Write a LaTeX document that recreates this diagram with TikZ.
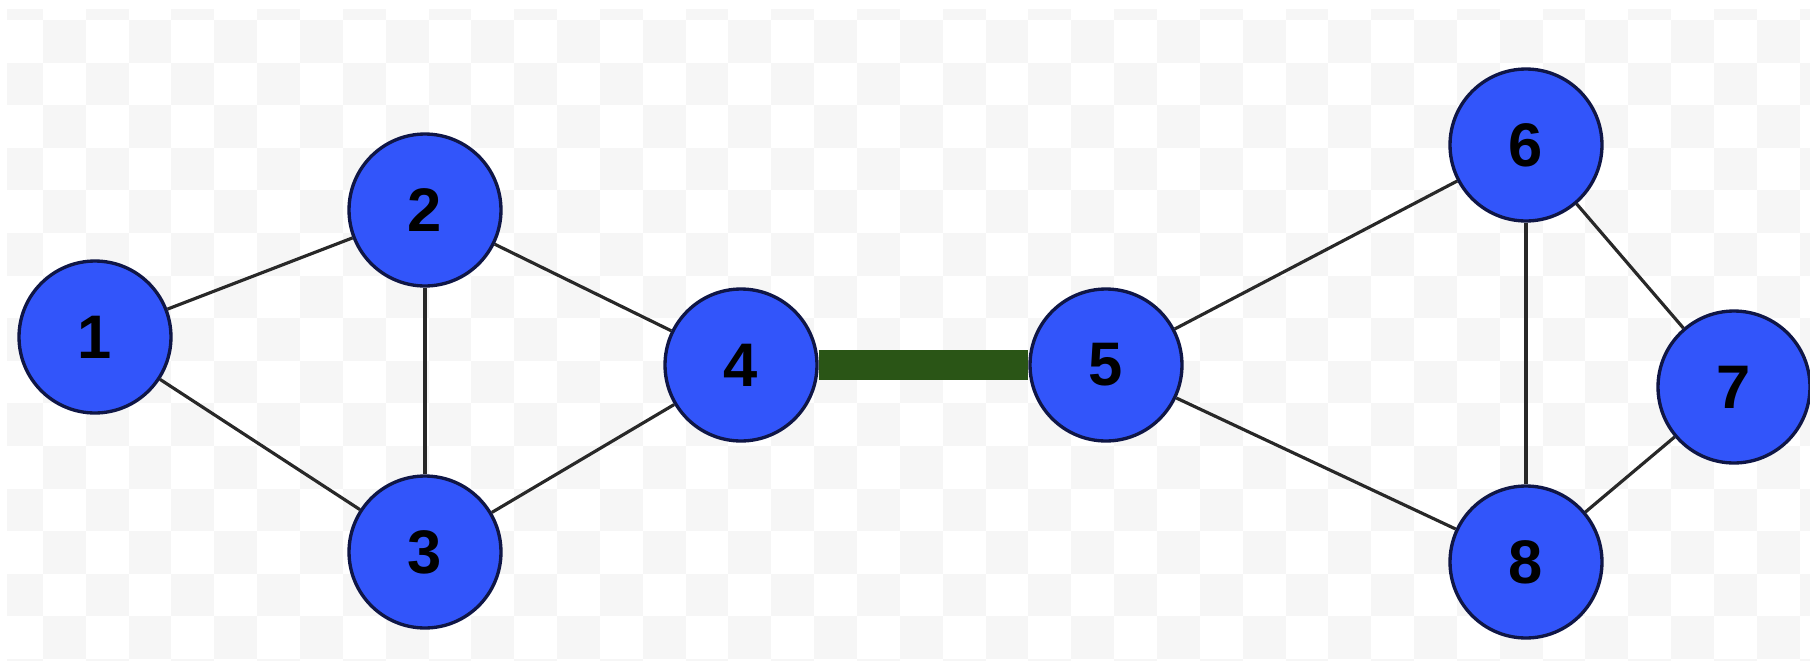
\documentclass[tikz,border=0pt]{standalone}
\usepackage{fontspec}
\setmainfont{Liberation Sans}
\usepackage{tikz}
\usetikzlibrary{shapes}
\definecolor{vblue}{RGB}{50,85,250}
\definecolor{vrim}{RGB}{15,22,70}
\definecolor{bridgegreen}{RGB}{42,85,22}
\definecolor{board}{RGB}{246,246,246}
\tikzstyle{vertex}=[circle, draw=vrim, line width=1.9pt, fill=vblue, inner sep=0pt, minimum size=3.04cm, font=\fontsize{35}{37}\selectfont\bfseries]
\tikzstyle{link}=[draw={rgb,255:red,40;green,40;blue,40}, line width=1.8pt]
\tikzstyle{bridge}=[draw=bridgegreen, line width=17.5pt]

\begin{document}
\begin{tikzpicture}[x=0.02cm, y=-0.02cm]
\useasboundingbox (0,0) rectangle (1810,660);
% checkered backdrop
\begin{scope}
\clip (7,9) rectangle (1810,660);
\foreach \i in {0,...,42} {
	\foreach \j in {0,...,16} {
		\pgfmathtruncatemacro{\k}{mod(\i+\j,2)}
		\ifnum\k=0 \fill[board] (\i*42.85,\j*42.6-22.7) rectangle ++(42.85,42.6); \fi
	}
}
\end{scope}
\foreach \n/\x/\y in {1/95/337,2/425/210,3/425/552,4/741/365,5/1106/365,6/1526/145,7/1734/387,8/1526/562} {
	\node[vertex] (v\n) at (\x,\y) {\n};
}
\foreach \a/\b in {1/2,1/3,2/3,2/4,3/4,5/6,5/8,6/7,6/8,7/8} {
	\draw[link] (v\a) -- (v\b);
}
\draw[bridge] (v4) -- (v5);
\end{tikzpicture}
\end{document}
